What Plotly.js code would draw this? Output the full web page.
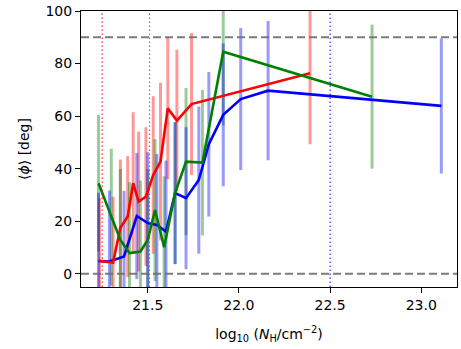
<!DOCTYPE html>
<html>
<head>
<meta charset="utf-8">
<script src="https://cdn.plot.ly/plotly-3.0.1.min.js"></script>
<style>html,body{margin:0;padding:0;background:#fff;}#chart{width:461px;height:349px;}</style>
</head>
<body>
<div id="chart"></div>
<script>
// Red series
const redX = [21.235, 21.31, 21.35, 21.39, 21.42, 21.45, 21.49, 21.53, 21.57, 21.61, 21.66, 21.74, 22.39];
const redY = [4.9, 4.3, 17.5, 21.8, 34.5, 27.5, 29.4, 37.6, 42.7, 63.0, 58.3, 64.6, 76.3];
const redErr = [24, 25, 26, 23, 27, 26.6, 26.4, 30, 30, 27, 27, 27, 27];
// Blue series
const blueX = [21.23, 21.29, 21.37, 21.44, 21.50, 21.55, 21.60, 21.65, 21.71, 21.78, 21.835, 21.914, 22.01, 22.16, 23.11];
const blueY = [4.9, 4.7, 6.6, 22.0, 19.3, 18.6, 16.1, 30.7, 28.8, 35.7, 49.3, 60.5, 66.5, 69.7, 63.9];
const blueErr = [26, 27, 25, 24, 27, 27, 27, 27, 27, 28, 27.5, 27.2, 27, 26.5, 25.7];
// Green series
const greenX = [21.23, 21.30, 21.35, 21.40, 21.46, 21.50, 21.54, 21.59, 21.65, 21.71, 21.80, 21.914, 22.73];
const greenY = [34.5, 21.6, 12.9, 7.9, 8.5, 12.9, 24.3, 10.1, 30.7, 42.7, 42.3, 84.5, 67.4];
const greenErr = [26, 26, 27, 27, 27, 27, 27, 27, 27, 28, 27.7, 28, 27.4];
// Reference lines
const hLines = [0, 90];
const vLines = [{x: 21.25, c: '#ff0000'}, {x: 21.51, c: '#2a9a2a'}, {x: 22.5, c: '#0000ff'}];
const xTicks = [21.5, 22.0, 22.5, 23.0];
const yTicks = [0, 20, 40, 60, 80, 100];

function errTrace(x, y, e, col) {
  return {x: x, y: y, type: 'scatter', mode: 'markers', marker: {size: 1, opacity: 0},
    error_y: {type: 'data', array: e, visible: true, color: col, thickness: 3, width: 0},
    hoverinfo: 'skip', showlegend: false};
}
function lineTrace(x, y, col) {
  return {x: x, y: y, type: 'scatter', mode: 'lines', line: {color: col, width: 2.6}, showlegend: false};
}
const data = [
  errTrace(redX, redY, redErr, 'rgba(255,0,0,0.4)'),
  errTrace(greenX, greenY, greenErr, 'rgba(0,128,0,0.4)'),
  errTrace(blueX, blueY, blueErr, 'rgba(0,0,255,0.4)'),
  lineTrace(blueX, blueY, '#0000ff'),
  lineTrace(redX, redY, '#ff0000'),
  lineTrace(greenX, greenY, '#008000')
];
const shapes = [];
hLines.forEach(v => shapes.push({type: 'line', xref: 'paper', x0: 0, x1: 1, yref: 'y', y0: v, y1: v,
  line: {color: 'rgba(110,110,110,0.9)', width: 2, dash: '8px,4px'}, layer: 'above'}));
vLines.forEach(v => shapes.push({type: 'line', xref: 'x', x0: v.x, x1: v.x, yref: 'paper', y0: 0, y1: 1,
  line: {color: v.c, width: 1, dash: '1.5px,2.5px'}, layer: 'above'}));

const layout = {
  width: 461, height: 349,
  margin: {l: 81, r: 4, t: 11, b: 62},
  paper_bgcolor: '#fff', plot_bgcolor: '#fff',
  font: {family: 'DejaVu Sans', size: 14, color: '#000'},
  showlegend: false,
  xaxis: {range: [21.134, 23.196], tickvals: xTicks, ticktext: xTicks.map(v => v.toFixed(1)),
    ticks: 'outside', ticklen: 5, tickwidth: 1, tickcolor: '#000', showgrid: false, zeroline: false,
    tickfont: {size: 14},
    showline: true, linecolor: '#000', linewidth: 1, mirror: true,
    title: {text: 'log<sub>10</sub> (<i>N</i><sub>H</sub>/cm<sup>−2</sup>)', font: {size: 14}, standoff: 17}},
  yaxis: {range: [-5, 100], tickvals: yTicks, ticks: 'outside', ticklen: 5, tickwidth: 1, tickcolor: '#000',
    showgrid: false, zeroline: false, showline: true, linecolor: '#000', linewidth: 1, mirror: true,
    tickfont: {size: 14},
    title: {text: '⟨<i>ϕ</i>⟩ [deg]', font: {size: 14}, standoff: 12}},
  shapes: shapes
};
Plotly.newPlot('chart', data, layout, {displayModeBar: false, staticPlot: true});
</script>
</body>
</html>
